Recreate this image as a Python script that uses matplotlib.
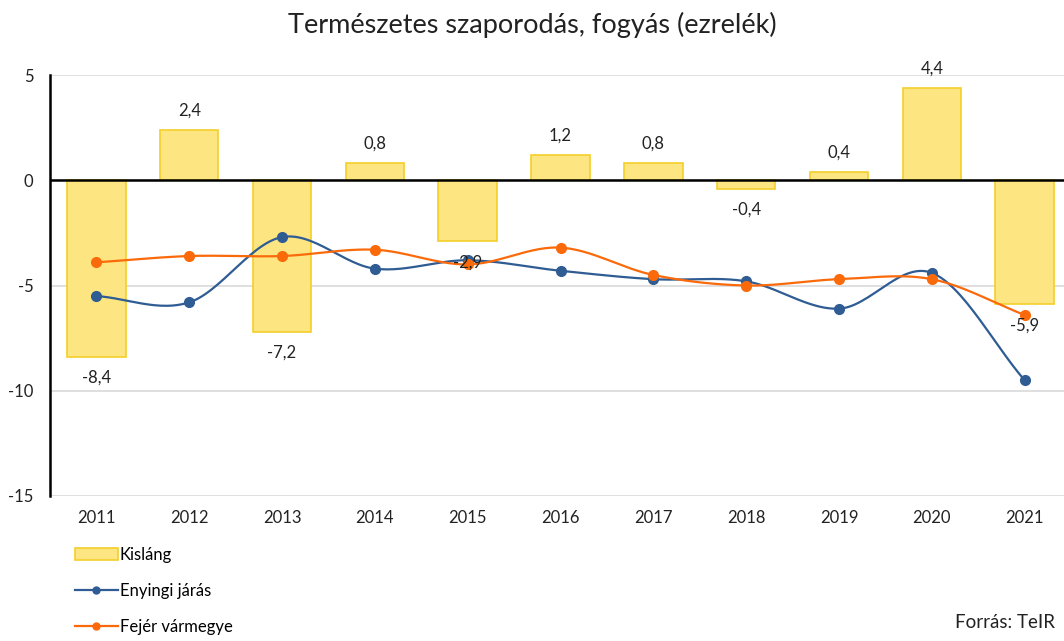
import numpy as np
import matplotlib
matplotlib.use("Agg")
from matplotlib import pyplot as plt

plt.rcParams['font.family'] = ['Lato', 'DejaVu Sans']

years = ['2011', '2012', '2013', '2014', '2015', '2016', '2017', '2018', '2019', '2020', '2021']
kislang = [-8.4, 2.4, -7.2, 0.8, -2.9, 1.2, 0.8, -0.4, 0.4, 4.4, -5.9]
enyingi = [-5.5, -5.8, -2.7, -4.2, -3.8, -4.3, -4.7, -4.8, -6.1, -4.4, -9.5]
fejer = [-3.9, -3.6, -3.6, -3.3, -4.0, -3.2, -4.5, -5.0, -4.7, -4.7, -6.4]
y_ticks = [5, 0, -5, -10, -15]

BAR_FACE = '#fde681'
BAR_EDGE = '#f3cf2a'
BLUE = '#2e5c93'
ORANGE = '#fb6a0a'


def smooth(xs, ys, n=30):
    # catmull-rom, roughly what excel does with "smoothed line"
    xs = np.asarray(xs, float); ys = np.asarray(ys, float)
    px = np.concatenate([[2 * xs[0] - xs[1]], xs, [2 * xs[-1] - xs[-2]]])
    py = np.concatenate([[2 * ys[0] - ys[1]], ys, [2 * ys[-1] - ys[-2]]])
    ox, oy = [], []
    t = np.linspace(0, 1, n)
    for i in range(1, len(px) - 2):
        for p, out in ((px, ox), (py, oy)):
            p0, p1, p2, p3 = p[i - 1], p[i], p[i + 1], p[i + 2]
            out.extend(0.5 * ((2 * p1) + (-p0 + p2) * t
                              + (2 * p0 - 5 * p1 + 4 * p2 - p3) * t ** 2
                              + (-p0 + 3 * p1 - 3 * p2 + p3) * t ** 3))
    return np.array(ox), np.array(oy)


fig = plt.figure(figsize=(10.64, 6.41), dpi=100)
ax = fig.add_axes([50 / 1064, 1 - 496 / 641, 1021 / 1064, 421 / 641])
x = np.arange(len(years))

bars = ax.bar(x, kislang, width=0.63, color=BAR_FACE, edgecolor=BAR_EDGE, linewidth=1.2,
              zorder=2, label='Kisláng')
handles = [bars]

for xi, v in zip(x, kislang):
    off = 14 if v >= 0 else -15
    ax.annotate(f"{v:.1f}".replace('.', ','), (xi, v), xytext=(0, off), textcoords='offset points',
                ha='center', va='center', fontsize=12, color='#222222', zorder=5)

for vals, col, name in ((enyingi, BLUE, 'Enyingi járás'), (fejer, ORANGE, 'Fejér vármegye')):
    sx, sy = smooth(x, vals)
    ax.plot(sx, sy, color=col, linewidth=1.6, zorder=3)
    ax.plot(x, vals, 'o', color=col, markersize=7, zorder=4)
    h, = ax.plot([], [], '-o', color=col, linewidth=1.6, markersize=5, label=name)
    handles.append(h)

ax.set_xlim(-0.5, len(years) - 0.5)
ax.set_ylim(-15, 5)
ax.set_yticks(y_ticks)
ax.set_yticklabels([str(t) for t in y_ticks])
ax.set_xticks(x)
ax.set_xticklabels(years)
ax.tick_params(length=0, labelsize=12, colors='#222222')
ax.tick_params(axis='x', pad=10)
ax.tick_params(axis='y', pad=12)
ax.grid(axis='y', color='#d9d9d9', linewidth=1.2, zorder=0)
ax.set_axisbelow(True)
for s in ('top', 'right', 'bottom'):
    ax.spines[s].set_visible(False)
ax.spines['left'].set_linewidth(1.8)
ax.spines['left'].set_color('black')
ax.axhline(0, color='black', linewidth=1.8, zorder=3)

fig.text(0.5, 1 - 25 / 641, 'Természetes szaporodás, fogyás (ezrelék)', ha='center', va='center',
         fontsize=19.5, color='#222222')

fig.legend(handles=handles, loc='upper left', bbox_to_anchor=(68 / 1064, 1 - 540 / 641),
           frameon=False, fontsize=12, labelspacing=1.2, handlelength=2.6, handletextpad=0.1,
           borderaxespad=0)

fig.text(1055 / 1064, 1 - 622 / 641, 'Forrás: TeIR', ha='right', va='center', fontsize=13.5,
         color='#222222')

fig.savefig('out.png', dpi=100)
